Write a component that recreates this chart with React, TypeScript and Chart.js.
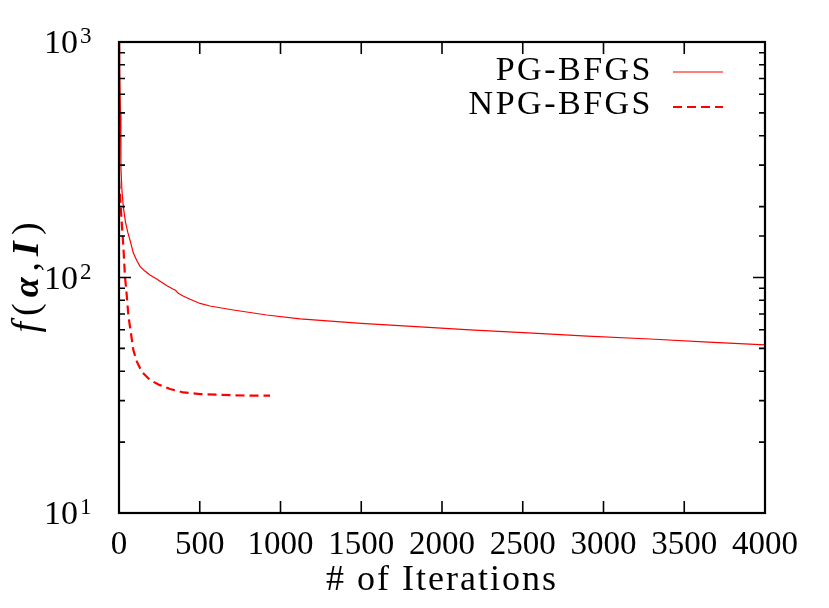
import React, { useEffect, useRef } from 'react';
import { Chart, registerables } from 'chart.js';

Chart.register(...registerables);

// ---------------- data ----------------
const seriesNames = ['PG-BFGS', 'NPG-BFGS'];

const pgIterations = [0, 3, 6, 9, 12, 18, 27, 40, 55, 68, 89, 110, 130, 160, 192, 233, 254, 300, 336, 350, 367, 400, 440, 502, 563, 708, 915, 1121, 1500, 1839, 2200, 2563, 2900, 3288, 3650, 4000];
const pgValues = [1000, 880, 780, 500, 290, 235, 199, 172, 155, 144, 127, 118, 111.5, 106.5, 102.5, 98.5, 96.5, 92, 89.1, 88.3, 85.7, 83.2, 80.8, 77.6, 75.7, 72.8, 69.3, 66.7, 63.8, 61.8, 59.8, 58.0, 56.4, 54.8, 53.2, 51.7];

const npgIterations = [0, 8, 16, 27, 37, 48, 58, 68, 89, 110, 141, 192, 250, 316, 398, 502, 600, 708, 820, 935];
const npgValues = [260, 215, 175, 135, 101, 84, 69, 61.8, 49.2, 44, 39.8, 36.7, 35, 33.6, 32.5, 32.0, 31.8, 31.6, 31.5, 31.5];

const xMin = 0;
const xMax = 4000;
const xStep = 500;
const yMin = 10;
const yMax = 1000;
const yTickExponents = ['1', '2', '3'];

const xTitle = '# of Iterations';
const yTitleParts = ['f', '(', 'α', ',', 'I', ')'];

const FONT = "'Liberation Serif', 'Times New Roman', serif";

const toPoints = (xs: number[], ys: number[]) => xs.map((x, i) => ({ x, y: ys[i] }));

const decoPlugin = {
  id: 'gnuplotDeco',
  afterDatasetsDraw(chart: any) {
    const { ctx, chartArea: a, scales } = chart;
    const xs = scales.x;
    const ys = scales.y;
    ctx.save();
    ctx.strokeStyle = '#000';
    ctx.lineCap = 'butt';

    // ticks on y (log) – left and right, inward
    ctx.lineWidth = 1.6;
    ys.ticks.forEach((t: any) => {
      const v = t.value;
      const lg = Math.log10(v);
      const major = Math.abs(lg - Math.round(lg)) < 1e-9;
      const len = major ? 12 : 6;
      const py = ys.getPixelForValue(v);
      ctx.beginPath();
      ctx.moveTo(a.left, py);
      ctx.lineTo(a.left + len, py);
      ctx.moveTo(a.right, py);
      ctx.lineTo(a.right - len, py);
      ctx.stroke();
    });
    // ticks on x – bottom and top, inward
    xs.ticks.forEach((t: any) => {
      const px = xs.getPixelForValue(t.value);
      ctx.beginPath();
      ctx.moveTo(px, a.bottom);
      ctx.lineTo(px, a.bottom - 12);
      ctx.moveTo(px, a.top);
      ctx.lineTo(px, a.top + 12);
      ctx.stroke();
    });

    // frame
    ctx.lineWidth = 2.2;
    ctx.strokeRect(a.left, a.top, a.right - a.left, a.bottom - a.top);

    // y tick labels 10^k
    ctx.fillStyle = '#000';
    ys.ticks.forEach((t: any) => {
      const v = t.value;
      const lg = Math.log10(v);
      if (Math.abs(lg - Math.round(lg)) > 1e-9) return;
      const k = Math.round(lg);
      const exp = yTickExponents[k - 1] ?? String(k);
      const py = ys.getPixelForValue(v);
      ctx.textBaseline = 'alphabetic';
      ctx.textAlign = 'right';
      ctx.font = `34px ${FONT}`;
      ctx.fillText('10', a.left - 41, py + 11);
      ctx.textAlign = 'left';
      ctx.font = `23px ${FONT}`;
      ctx.fillText(exp, a.left - 39, py + 1);
    });

    // x title
    const anyCtx = ctx as any;
    ctx.textAlign = 'center';
    ctx.textBaseline = 'alphabetic';
    ctx.font = `36px ${FONT}`;
    anyCtx.letterSpacing = '2px';
    ctx.fillText(xTitle, (a.left + a.right) / 2, 590);
    anyCtx.letterSpacing = '0px';

    // y title (rotated, mixed styles)
    const fonts = [
      `italic 38px ${FONT}`,
      `38px ${FONT}`,
      `bold italic 36px ${FONT}`,
      `38px ${FONT}`,
      `bold italic 38px ${FONT}`,
      `38px ${FONT}`,
    ];
    const gap = 6;
    let total = 0;
    const widths = yTitleParts.map((p, i) => {
      ctx.font = fonts[i];
      const w = ctx.measureText(p).width;
      total += w;
      return w;
    });
    total += gap * (yTitleParts.length - 1);
    ctx.save();
    ctx.translate(38, (a.top + a.bottom) / 2);
    ctx.rotate(-Math.PI / 2);
    ctx.textAlign = 'left';
    let cx = -total / 2;
    yTitleParts.forEach((p, i) => {
      ctx.font = fonts[i];
      ctx.fillText(p, cx, 0);
      cx += widths[i] + gap;
    });
    ctx.restore();

    // legend (gnuplot style: text right-aligned, sample on the right)
    chart.data.datasets.forEach((ds: any, i: number) => {
      const rowY = 72 + i * 35;
      ctx.font = `34px ${FONT}`;
      ctx.textAlign = 'right';
      ctx.textBaseline = 'alphabetic';
      anyCtx.letterSpacing = '2.5px';
      ctx.fillStyle = '#000';
      ctx.fillText(ds.label, 653, rowY + 8 - i);
      anyCtx.letterSpacing = '0px';
      ctx.strokeStyle = ds.borderColor;
      ctx.lineWidth = ds.borderWidth;
      ctx.setLineDash(ds.borderDash || []);
      ctx.beginPath();
      ctx.moveTo(673, rowY);
      ctx.lineTo(723, rowY);
      ctx.stroke();
      ctx.setLineDash([]);
    });

    ctx.restore();
  },
};

export default function App() {
  const canvasRef = useRef<HTMLCanvasElement | null>(null);

  useEffect(() => {
    if (!canvasRef.current) return;
    const chart = new Chart(canvasRef.current, {
      type: 'line',
      data: {
        datasets: [
          {
            label: seriesNames[0],
            data: toPoints(pgIterations, pgValues),
            borderColor: '#ff0000',
            borderWidth: 1.2,
            pointRadius: 0,
            tension: 0,
            fill: false,
          },
          {
            label: seriesNames[1],
            data: toPoints(npgIterations, npgValues),
            borderColor: '#ff0000',
            borderWidth: 2.2,
            borderDash: [9, 5],
            pointRadius: 0,
            tension: 0,
            fill: false,
          },
        ],
      },
      options: {
        responsive: false,
        animation: false,
        layout: { padding: { top: 42, right: 64, left: 0, bottom: 0 } },
        plugins: {
          legend: { display: false },
          tooltip: { enabled: false },
        },
        scales: {
          x: {
            type: 'linear',
            min: xMin,
            max: xMax,
            ticks: {
              stepSize: xStep,
              color: '#000',
              font: { family: FONT, size: 33 },
              padding: 13,
              maxRotation: 0,
              autoSkip: false,
              callback: (v: any) => String(v),
            },
            grid: { display: false, drawTicks: false },
            border: { display: false },
            afterFit: (s: any) => {
              s.height = 95;
            },
          },
          y: {
            type: 'logarithmic',
            min: yMin,
            max: yMax,
            ticks: { display: false },
            grid: { display: false, drawTicks: false },
            border: { display: false },
            afterFit: (s: any) => {
              s.width = 119;
            },
          },
        },
      } as any,
      plugins: [decoPlugin],
    });
    return () => chart.destroy();
  }, []);

  return (
    <div style={{ position: 'absolute', left: 0, top: 0, width: 829, height: 608, background: '#fff' }}>
      <canvas ref={canvasRef} width={829} height={608} style={{ display: 'block' }} />
    </div>
  );
}
